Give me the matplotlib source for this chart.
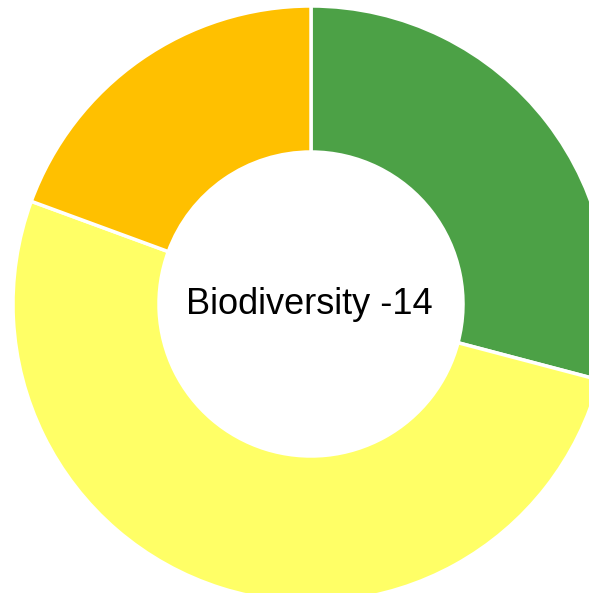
import matplotlib
matplotlib.use("Agg")
import matplotlib.pyplot as plt

labels = ["Green", "Yellow", "Orange"]
values = [29.1, 51.5, 19.4]
colors = ["#4ca146", "#ffff66", "#ffc000"]
title = "Biodiversity -14"

W, H = 589, 593
fig = plt.figure(figsize=(W / 100, H / 100), dpi=100)
ax = fig.add_axes([0, 0, 1, 1])

cx, cy, r = 311, H - 304, 298
ax.pie(values, colors=colors, startangle=90, counterclock=False,
       center=(cx, cy), radius=r, frame=True,
       wedgeprops=dict(width=r - 152, edgecolor="white", linewidth=2.5))
ax.set_xlim(0, W)
ax.set_ylim(0, H)
ax.set_aspect("equal")
ax.axis("off")
ax.text(cx - 2, cy - 1, title, ha="center", va="center", fontsize=26,
        family="Liberation Sans", color="black")

fig.savefig("out.png", dpi=100)
